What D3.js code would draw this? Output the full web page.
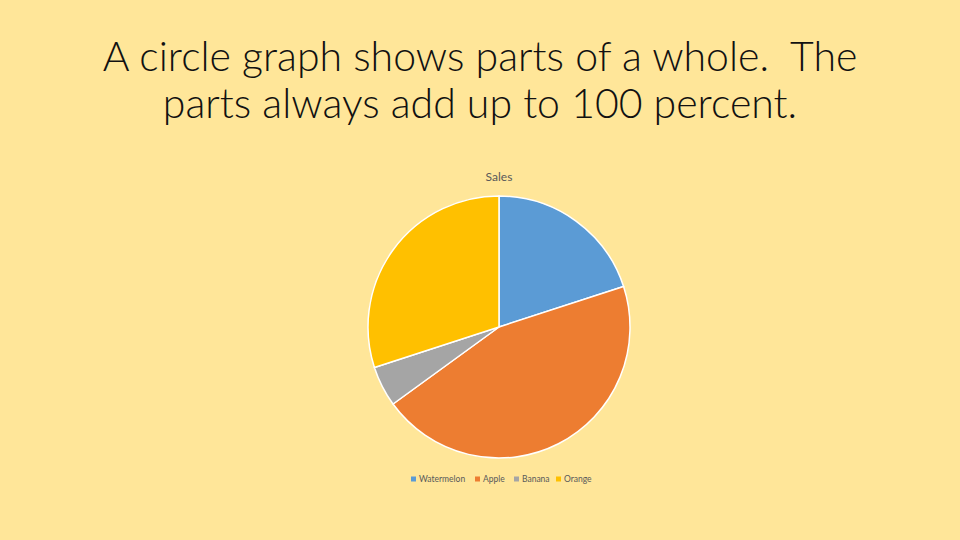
<!DOCTYPE html>
<html>
<head>
<meta charset="utf-8">
<script src="https://cdn.jsdelivr.net/npm/d3@7"></script>
<style>
  html, body { margin: 0; padding: 0; background: #FFE699; }
  svg { display: block; }
</style>
</head>
<body>
<svg id="root" width="960" height="540"></svg>
<script>
var fruits = ['Watermelon', 'Apple', 'Banana', 'Orange'];
var sales = [20, 45, 5, 30];
var fruitColors = ['#5B9BD5', '#ED7D31', '#A5A5A5', '#FFC000'];
var titleLines = ['A circle graph shows parts of a whole.  The', 'parts always add up to 100 percent.'];

var svg = d3.select('#root');
svg.append('rect').attr('width', 960).attr('height', 540).attr('fill', '#FFE699');

// slide heading
svg.selectAll('text.heading').data(titleLines).enter().append('text')
  .attr('class', 'heading')
  .attr('x', 480)
  .attr('y', function(d, i) { return 71 + i * 47; })
  .attr('text-anchor', 'middle')
  .attr('font-family', 'Lato, "Open Sans", sans-serif')
  .attr('font-weight', 300)
  .attr('font-size', 41)
  .attr('fill', '#111')
  .style('white-space', 'pre')
  .text(function(d) { return d; });

// chart title
svg.append('text')
  .attr('x', 499).attr('y', 181)
  .attr('text-anchor', 'middle')
  .attr('font-family', 'Lato, sans-serif')
  .attr('font-size', 12)
  .attr('fill', '#595959')
  .text('Sales');

var cx = 499, cy = 327, radius = 131;
var color = d3.scaleOrdinal().domain(fruits).range(fruitColors);
var pie = d3.pie().sort(null).value(function(d) { return d.value; });
var arc = d3.arc().innerRadius(0).outerRadius(radius);

var slices = fruits.map(function(f, i) { return {name: f, value: sales[i]}; });

svg.append('g').attr('transform', 'translate(' + cx + ',' + cy + ')')
  .selectAll('path').data(pie(slices)).enter().append('path')
  .attr('d', arc)
  .attr('fill', function(d) { return color(d.data.name); })
  .attr('stroke', '#fff')
  .attr('stroke-width', 1.5);

// legend
var legendX = [411, 475, 514, 556];
var legend = svg.append('g').selectAll('g').data(fruits).enter().append('g')
  .attr('transform', function(d, i) { return 'translate(' + legendX[i] + ',479)'; });
legend.append('rect')
  .attr('x', 0).attr('y', -2.5).attr('width', 5).attr('height', 5)
  .attr('fill', function(d) { return color(d); });
legend.append('text')
  .attr('x', 8).attr('y', 3)
  .attr('font-family', 'Lato, sans-serif')
  .attr('font-size', 8.5)
  .attr('fill', '#595959')
  .text(function(d) { return d; });
</script>
</body>
</html>
